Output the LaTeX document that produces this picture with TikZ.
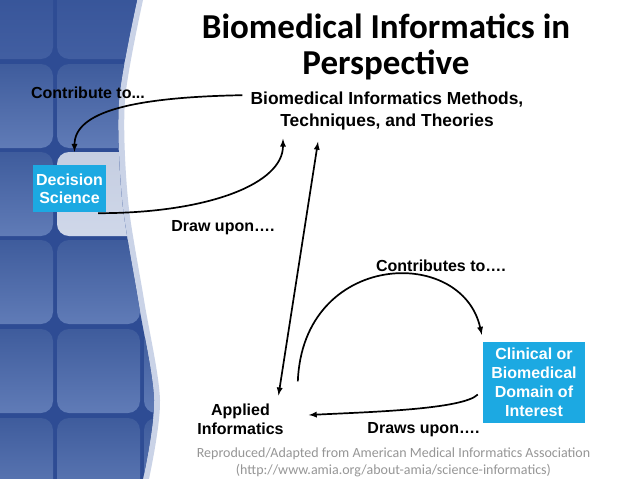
\documentclass[tikz,border=0pt]{standalone}
\usepackage{fontspec}
\setmainfont{Liberation Sans}
\newfontfamily\calibri{Carlito}
\usepackage{tikz}
\usetikzlibrary{arrows,positioning,calc}
\definecolor{mycyan}{RGB}{28,169,226}
\definecolor{mytile}{RGB}{68,100,170}
\definecolor{mygrid}{RGB}{46,76,148}
\definecolor{mygray}{RGB}{150,150,150}
\tikzstyle{box}=[fill=mycyan,text=white,font=\bfseries\fontsize{16}{18}\selectfont,align=center,inner sep=0pt]
\tikzstyle{txt}=[font=\bfseries\fontsize{16}{19}\selectfont,align=center,inner sep=0pt]
\tikzstyle{link}=[line width=1.7pt,-latex]

\begin{document}
\begin{tikzpicture}[x=1pt,y=-1pt]
\path[use as bounding box,fill=white] (0,0) rectangle (638,479);

% left panel
\fill[mytile!35!white,opacity=0.8] (0,0) -- plot[smooth] coordinates {(143,0) (125,100) (128,200) (144,300) (160,400) (149,479)} -- (0,479) -- cycle;
\begin{scope}
\clip (0,0) -- plot[smooth] coordinates {(137,0) (119,100) (122,200) (138,300) (154,400) (143,479)} -- (0,479) -- cycle;
\fill[mygrid] (0,0) rectangle (200,479);
\foreach \x in {-30,57,144}
  \foreach \y in {-25,64,152,240,329,418}
    \shade[top color=mytile!92!black,bottom color=mytile!85!white,rounded corners=12pt] (\x,\y) rectangle +(83,84);
\fill[mygrid,opacity=0.6] (0,0) rectangle (200,62);
\fill[white,opacity=0.7,rounded corners=12pt] (57,152) rectangle +(83,84);
\end{scope}

% texts
\node[font=\calibri\bfseries\fontsize{35}{36}\selectfont,align=center] (title) at (386,47) {Biomedical Informatics in\\Perspective};
\node[txt,font=\bfseries\fontsize{17.4}{21}\selectfont] (bim) at (387,111) {Biomedical Informatics Methods,\\Techniques, and Theories};
\node[txt] (contrib) at (88,93) {Contribute to...};
\node[box,minimum width=73pt,minimum height=47pt] (ds) at (69.5,188.5) {Decision\\Science};
\node[txt] (drawup) at (223,228) {Draw upon\dots.};
\node[txt] (contribs) at (441,266) {Contributes to\dots.};
\node[box,minimum width=102pt,minimum height=81pt,font=\bfseries\fontsize{16}{19}\selectfont] (cd) at (534,382.5) {Clinical or\\Biomedical\\Domain of\\Interest};
\node[txt] (ai) at (240.5,419) {Applied\\Informatics};
\node[txt] (drawsup) at (423.5,430) {Draws upon\dots.};
\node[font=\calibri\fontsize{14}{17}\selectfont,text=mygray,align=center] (src) at (393.5,462) {Reproduced/Adapted from American Medical Informatics Association\\(http://www.amia.org/about-amia/science-informatics)};

% connectors
\draw[link] ([xshift=-8pt,yshift=-3pt]bim.north west) .. controls +(-110,2) and +(0,-40) .. ([xshift=5pt,yshift=13pt]ds.north);
\draw[link] ([xshift=-8pt,yshift=-1pt]ds.south east) .. controls +(110,0) and +(0,45) .. ([xshift=-104pt,yshift=-9pt]bim.south);
\draw[link,latex-latex] ([xshift=38pt,yshift=8pt]ai.north) -- ([xshift=-69pt,yshift=-12pt]bim.south);
\draw[link] ([xshift=14pt,yshift=22pt]ai.north east) .. controls +(5,-130) and +(-20,-90) .. ([xshift=-1pt,yshift=7pt]cd.north west);
\draw[link] ([xshift=-5pt,yshift=-12pt]cd.west) .. controls +(-15,15) and +(60,-3) .. ([xshift=25pt,yshift=4pt]ai.east);
\end{tikzpicture}
\end{document}
